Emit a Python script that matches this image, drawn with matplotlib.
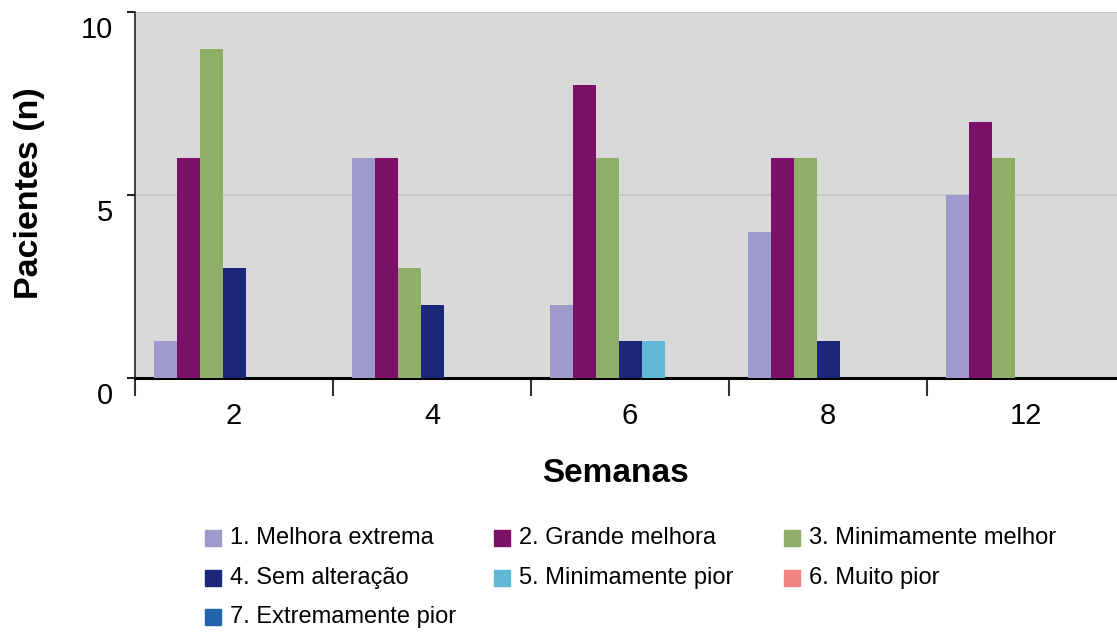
import matplotlib
matplotlib.use("Agg")
import matplotlib.pyplot as plt
import matplotlib.transforms as mtransforms
from matplotlib.patches import Rectangle
import numpy as np

plt.rcParams["font.family"] = ["Liberation Sans", "DejaVu Sans"]

# --- Data ---
weeks = ["2", "4", "6", "8", "12"]
categories = [
    "1. Melhora extrema",
    "2. Grande melhora",
    "3. Minimamente melhor",
    "4. Sem alteração",
    "5. Minimamente pior",
    "6. Muito pior",
    "7. Extremamente pior",
]
melhora_extrema = [1, 6, 2, 4, 5]
grande_melhora = [6, 6, 8, 6, 7]
minimamente_melhor = [9, 3, 6, 6, 6]
sem_alteracao = [3, 2, 1, 1, 0]
minimamente_pior = [0, 0, 1, 0, 0]
muito_pior = [0, 0, 0, 0, 0]
extremamente_pior = [0, 0, 0, 0, 0]
series = [melhora_extrema, grande_melhora, minimamente_melhor, sem_alteracao,
          minimamente_pior, muito_pior, extremamente_pior]
colors = ["#9d9bcb", "#7b1068", "#8fae67", "#1b2779", "#60b8d6", "#f28282", "#1f64ad"]

W, H = 1117, 632
fig = plt.figure(figsize=(W / 100, H / 100), dpi=100)
ax = fig.add_axes([135 / W, 1 - 378 / H, 990 / W, 366 / H])
ax.set_facecolor("#d9d9d9")

# --- Bars ---
bw = 23 / 198
x = np.arange(len(weeks))
for j, (vals, c) in enumerate(zip(series, colors)):
    ax.bar(x + 0.5 + (j - 3) * bw, vals, width=bw, color=c, zorder=3)

ax.set_xlim(0, len(weeks))
ax.set_ylim(0, 10)

# --- Axes styling ---
ax.set_yticks([0, 5, 10])
ax.yaxis.grid(True, color="#c4c4c4", linewidth=1.2, zorder=1)
ax.set_axisbelow(True)
for s in ["top", "right"]:
    ax.spines[s].set_visible(False)
ax.spines["bottom"].set_linewidth(2.2)
ax.spines["bottom"].set_color("black")
ax.spines["left"].set_linewidth(1.2)
ax.spines["left"].set_color("#222222")

ax.tick_params(axis="y", length=6, width=1.5, color="#222222", labelsize=21, pad=10)
offset = mtransforms.ScaledTranslation(0, -0.15, fig.dpi_scale_trans)
for lab in ax.get_yticklabels():
    lab.set_transform(lab.get_transform() + offset)

ax.set_xticks(np.arange(len(weeks) + 1))
ax.set_xticklabels([])
ax.set_xticks(x + 0.5, minor=True)
ax.set_xticklabels(weeks, minor=True)
ax.tick_params(axis="x", which="major", length=13, width=1.5, color="#333333")
ax.tick_params(axis="x", which="minor", length=0, labelsize=21, pad=17)

fig.text(615 / W, 1 - 473 / H, "Semanas", ha="center", va="center",
         fontsize=24, fontweight="bold")
fig.text(30 / W, 1 - 193 / H, "Pacientes (n)", ha="center", va="center",
         rotation=90, fontsize=24.5, fontweight="bold")

# --- Legend (row-major, 3 columns) ---
col_x = [205, 494, 784]
row_y = [538, 578, 617]
for k, (name, c) in enumerate(zip(categories, colors)):
    cx = col_x[k % 3]
    cy = row_y[k // 3]
    fig.add_artist(Rectangle((cx / W, 1 - (cy + 8) / H), 16 / W, 16 / H,
                             transform=fig.transFigure, color=c))
    fig.text((cx + 25) / W, 1 - cy / H, name, ha="left", va="center", fontsize=17)

fig.savefig("out.png", dpi=100)
